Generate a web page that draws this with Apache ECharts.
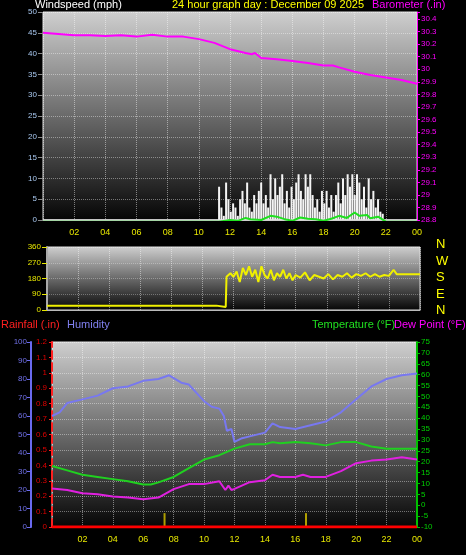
<!DOCTYPE html>
<html><head><meta charset="utf-8">
<script src="https://cdn.jsdelivr.net/npm/echarts@6/dist/echarts.min.js"></script>
<style>html,body{margin:0;padding:0;background:#000}#c{width:466px;height:555px}</style>
</head><body><div id="c"></div>
<script>
const hourLabels = ['02','04','06','08','10','12','14','16','18','20','22','00'];
const barometer = [[0,30.29],[1,30.28],[2,30.27],[3,30.27],[4,30.265],[5,30.27],[6,30.26],[7,30.275],[8,30.26],[9,30.26],[10,30.24],[11,30.21],[12,30.16],[13,30.13],[13.4,30.12],[13.6,30.13],[14,30.09],[15,30.08],[16,30.065],[17,30.05],[18,30.03],[18.6,30.03],[19,30.015],[20,29.98],[21,29.955],[22,29.935],[23,29.915],[24,29.885]];
const windGust = [[11.3,8],[11.45,3],[11.6,1],[11.75,9],[11.9,5],[12.05,2],[12.2,4],[12.35,3],[12.5,1],[12.65,5],[12.8,7],[12.95,4],[13.1,9],[13.25,3],[13.4,2],[13.55,6],[13.7,4],[13.85,7],[14.0,9],[14.15,4],[14.3,6],[14.45,3],[14.6,11],[14.75,5],[14.9,10],[15.05,6],[15.2,8],[15.35,11],[15.5,4],[15.65,7],[15.8,3],[15.95,8],[16.1,5],[16.25,9],[16.4,11],[16.55,7],[16.7,5],[16.85,11],[17.0,8],[17.15,11],[17.3,6],[17.45,3],[17.6,5],[17.75,2],[17.9,7],[18.05,4],[18.2,7],[18.35,3],[18.5,6],[18.65,2],[18.8,6],[18.95,9],[19.1,4],[19.25,10],[19.4,6],[19.55,11],[19.7,8],[19.85,11],[20.0,6],[20.15,11],[20.3,9],[20.45,5],[20.6,8],[20.75,3],[20.9,10],[21.05,5],[21.2,7],[21.35,3],[21.5,5],[21.65,2],[21.8,1.5]];
const windAvg = [[0,-0.4],[11.3,-0.4],[12,0],[12.5,-0.2],[13,0.5],[13.3,0.2],[14,0],[14.6,1],[15,0.8],[15.5,0.2],[16,-0.2],[16.5,0.6],[17,0.3],[17.5,0.2],[18,-0.2],[18.5,0.3],[19,1],[19.5,0.5],[20,1.8],[20.3,1],[20.8,1.2],[21,0.4],[21.5,0.8],[22,-0.4],[24,-0.4]];
const windDir = [[0,25],[10.9,25],[11,17],[11.5,17],[11.55,190],[11.8,210],[12,190],[12.2,220],[12.4,160],[12.6,240],[12.8,200],[13,250],[13.2,190],[13.4,230],[13.6,160],[13.8,250],[14,200],[14.2,180],[14.4,230],[14.6,170],[14.8,210],[15,190],[15.2,230],[15.4,180],[15.6,210],[15.8,170],[16,200],[16.3,185],[16.6,215],[16.9,170],[17.2,200],[17.5,190],[17.8,180],[18.1,205],[18.4,175],[18.7,200],[19,190],[19.3,210],[19.6,185],[19.9,205],[20.2,195],[20.5,210],[20.8,190],[21.1,205],[21.4,190],[21.7,200],[22,195],[22.3,230],[22.5,205],[24,205]];
const humidity = [[0,60],[0.5,62],[1,67],[2,69],[3,71],[4,75],[5,76],[6,79],[7,80],[7.7,82],[8.5,78],[9,77],[10,68],[10.5,65],[11,64],[11.3,60],[11.5,52],[11.8,53],[12,46],[12.5,48],[13,49],[14,51],[14.5,56],[15,54],[16,53],[17,55],[18,57],[19,62],[20,69],[21,76],[22,80],[23,82],[24,83]];
const temperature = [[0,18],[1,16],[2,14],[3,13],[4,12],[5,11],[6,9.5],[6.5,9.5],[7,10.5],[8,13],[9,17],[10,21],[11,23],[12,26],[13,28],[14,28],[14.5,29],[15,28.5],[16,29],[17,28.5],[18,27.5],[19,29],[20,29],[21,27],[22,26],[24,26]];
const dewPoint = [[0,7.7],[1,7],[2,5.5],[3,5],[4,4],[5,3.5],[6,2.8],[7,3.5],[8,7.4],[9,9.7],[10,9.7],[11,11],[11.4,7],[11.6,9],[11.8,7],[12,7.5],[13,10.6],[14,11.5],[14.5,14],[15,13],[16,13],[16.5,14],[17,13],[18,13],[19,15.7],[20,19.3],[21,20.5],[22,21],[23,22],[24,21]];
const rainfall = [[0,0],[24,0]];
const rainMarks = [[7.4,0.09],[16.7,0.09]];
const dirLabels = ['N','W','S','E','N'];

const F = 'Liberation Sans';
function bg(){return {type:'linear',x:0,y:0,x2:0,y2:1,colorStops:[{offset:0,color:'#cfcfcf'},{offset:1,color:'#050505'}]};}
function xAx(gi, show){return {type:'value',gridIndex:gi,min:0,max:24,interval:2,
  axisLine:{show:true,lineStyle:{color:'#bbb'}},axisTick:{show:false},
  splitLine:{show:true,lineStyle:{color:'rgba(255,255,255,0.45)',type:'dotted'}},
  axisLabel:{show:show,color:'#e8e800',fontFamily:F,fontSize:9,margin:8,
    formatter:v=>v===0?'':hourLabels[v/2-1]}};}
const chart = echarts.init(document.getElementById('c'));
chart.setOption({
  backgroundColor:'#000',animation:false,
  grid:[
    {left:43,right:49,top:12,height:208,show:true,backgroundColor:bg(),borderColor:'#ddd',borderWidth:1},
    {left:47,right:46,top:247,height:63,show:true,backgroundColor:bg(),borderColor:'#ddd',borderWidth:1},
    {left:52,right:49,top:342,height:185,show:true,backgroundColor:bg(),borderColor:'#ddd',borderWidth:1}
  ],
  xAxis:[xAx(0,true),xAx(1,false),xAx(2,true)],
  yAxis:[
    {type:'value',gridIndex:0,position:'left',min:0,max:50,interval:5,axisLine:{show:false},axisTick:{show:true,lineStyle:{color:'#888'}},
     splitLine:{show:true,lineStyle:{color:'rgba(255,255,255,0.4)',type:'dotted'}},
     axisLabel:{color:'#a8c8f0',fontFamily:F,fontSize:8,margin:6}},
    {type:'value',gridIndex:0,position:'right',min:28.8,max:30.456,interval:0.1,axisLine:{show:true,lineStyle:{color:'#ff00ff'}},
     axisTick:{show:true,length:3},splitLine:{show:false},
     axisLabel:{color:'#ff00ff',fontFamily:F,fontSize:8,margin:4,formatter:v=>v>30.41?'':String(parseFloat(v.toFixed(1)))}},
    {type:'value',gridIndex:1,position:'left',min:0,max:360,interval:90,axisLine:{show:true,lineStyle:{color:'#aaa',width:2}},
     axisTick:{show:true,lineStyle:{color:'#e8e800'}},splitLine:{show:true,lineStyle:{color:'rgba(255,255,255,0.3)',type:'dotted'}},
     axisLabel:{color:'#e8e800',fontFamily:F,fontSize:8,margin:6}},
    {type:'value',gridIndex:2,position:'left',min:0,max:1.2,interval:0.1,axisLine:{show:true,lineStyle:{color:'#ff2020',type:'dashed',width:2}},
     axisTick:{show:true,length:3},splitLine:{show:true,lineStyle:{color:'rgba(255,255,255,0.4)',type:'dotted'}},
     axisLabel:{color:'#e00000',fontFamily:F,fontSize:8,margin:5,formatter:v=>String(parseFloat(v.toFixed(1)))}},
    {type:'value',gridIndex:2,position:'left',min:0,max:100,interval:10,offset:21,axisLine:{show:true,lineStyle:{color:'#6a6af0',width:2}},
     axisTick:{show:true,length:4},splitLine:{show:false},
     axisLabel:{color:'#7070e8',fontFamily:F,fontSize:8,margin:4}},
    {type:'value',gridIndex:2,position:'right',min:-10,max:75,interval:5,axisLine:{show:true,lineStyle:{color:'#00c000',width:2}},
     axisTick:{show:true,length:3},splitLine:{show:false},
     axisLabel:{color:'#00d000',fontFamily:F,fontSize:8,margin:4}}
  ],
  series:[
    {type:'bar',xAxisIndex:0,yAxisIndex:0,data:windGust,barWidth:2,itemStyle:{color:'#f4f4f4'},silent:true},
    {type:'line',xAxisIndex:0,yAxisIndex:0,data:[[0,0],[24,0]],symbol:'none',lineStyle:{color:'#e0e0e0',width:1.5}},
    {type:'line',xAxisIndex:0,yAxisIndex:0,data:windAvg,symbol:'none',lineStyle:{color:'#20e020',width:2}},
    {type:'line',xAxisIndex:0,yAxisIndex:1,data:barometer,symbol:'none',lineStyle:{color:'#ff00ff',width:2}},
    {type:'line',xAxisIndex:1,yAxisIndex:2,data:windDir,symbol:'none',lineStyle:{color:'#f0f000',width:2}},
    {type:'line',xAxisIndex:2,yAxisIndex:3,data:rainfall,symbol:'none',lineStyle:{color:'#ff0000',width:3}},
    {type:'bar',xAxisIndex:2,yAxisIndex:3,data:rainMarks,barWidth:2,itemStyle:{color:'#b0a000'}},
    {type:'line',xAxisIndex:2,yAxisIndex:4,data:humidity,symbol:'none',lineStyle:{color:'#7878f0',width:2}},
    {type:'line',xAxisIndex:2,yAxisIndex:5,data:temperature,symbol:'none',lineStyle:{color:'#20d020',width:2}},
    {type:'line',xAxisIndex:2,yAxisIndex:5,data:dewPoint,symbol:'none',lineStyle:{color:'#e020e0',width:2}}
  ],
  graphic:[
    {type:'text',left:35,top:-1,style:{text:'Windspeed (mph)',fill:'#fff',font:'11px '+F}},
    {type:'text',left:172,top:-1,style:{text:'24 hour graph day : December 09 2025',fill:'#ffff00',font:'11px '+F}},
    {type:'text',left:372,top:-1,style:{text:'Barometer (.in)',fill:'#ff00ff',font:'11px '+F}},
    {type:'text',left:1,top:319,style:{text:'Rainfall (.in)',fill:'#ff2020',font:'11px '+F}},
    {type:'text',left:67,top:319,style:{text:'Humidity',fill:'#8080f0',font:'11px '+F}},
    {type:'text',left:312,top:319,style:{text:'Temperature (°F)',fill:'#20e020',font:'11px '+F}},
    {type:'text',left:394,top:319,style:{text:'Dew Point (°F)',fill:'#ff00ff',font:'11px '+F}}
  ].concat(dirLabels.map((t,i)=>({type:'text',left:436,top:238+i*16.5,style:{text:t,fill:'#ffff00',font:'13px '+F}})))
});
</script></body></html>
